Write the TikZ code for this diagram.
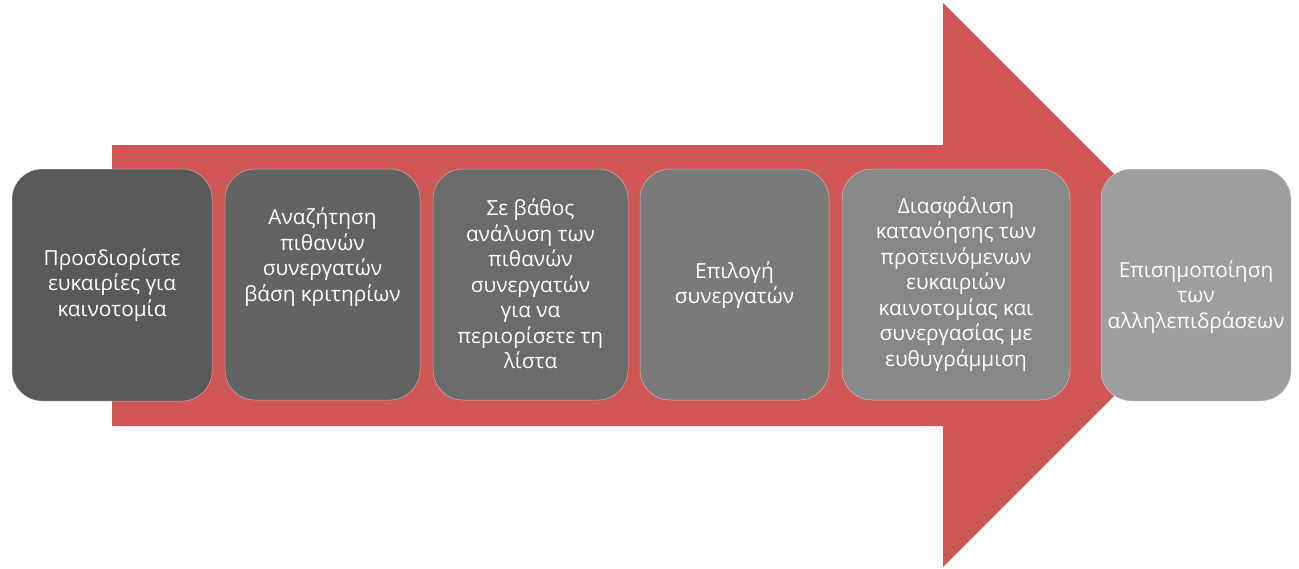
\documentclass[tikz,border=0pt]{standalone}
\usepackage{fontspec}
\setmainfont{Open Sans}
\begin{document}
\begin{tikzpicture}[x=1pt,y=-1pt,
  stepbox/.style={rounded corners=30pt, draw=white, draw opacity=0.5, line width=0.5pt},
  lbl/.style={text=white, align=center, font=\fontsize{20.8}{25.5}\selectfont, inner sep=0pt}]
\useasboundingbox (0,0) rectangle (1299,568);
\definecolor{arrowred}{HTML}{D15656}
\definecolor{g1}{HTML}{595959}
\definecolor{g2}{HTML}{636363}
\definecolor{g3}{HTML}{6B6B6B}
\definecolor{g4}{HTML}{7A7A7A}
\definecolor{g5}{HTML}{878787}
\definecolor{g6}{HTML}{9E9E9E}
% big arrow
\fill[arrowred] (112,145) -- (943,145) -- (943,3) -- (1225,285) -- (943,567) -- (943,426) -- (112,426) -- cycle;
% boxes
\filldraw[stepbox, fill=g1] (12,169) rectangle (212,401);
\filldraw[stepbox, fill=g2] (225,169) rectangle (420,400);
\filldraw[stepbox, fill=g3] (433,169) rectangle (628,400);
\filldraw[stepbox, fill=g4] (640,169) rectangle (829,400);
\filldraw[stepbox, fill=g5] (842,169) rectangle (1070,400);
\filldraw[stepbox, fill=g6] (1101,169) rectangle (1291,401);
% labels
\node[lbl] (t1) at (112,285) {Προσδιορίστε\\ευκαιρίες για\\καινοτομία};
\node[lbl] (t2) at (322.5,257) {Αναζήτηση\\πιθανών\\συνεργατών\\βάση κριτηρίων};
\node[lbl] (t3) at (530.5,284) {Σε βάθος\\ανάλυση των\\πιθανών\\συνεργατών\\για να\\περιορίσετε τη\\λίστα};
\node[lbl] (t4) at (734.5,285) {Επιλογή\\συνεργατών};
\node[lbl] (t5) at (956,284) {Διασφάλιση\\κατανόησης των\\προτεινόμενων\\ευκαιριών\\καινοτομίας και\\συνεργασίας με\\ευθυγράμμιση};
\node[lbl] (t6) at (1196,297) {Επισημοποίηση\\των\\αλληλεπιδράσεων};
\end{tikzpicture}
\end{document}
